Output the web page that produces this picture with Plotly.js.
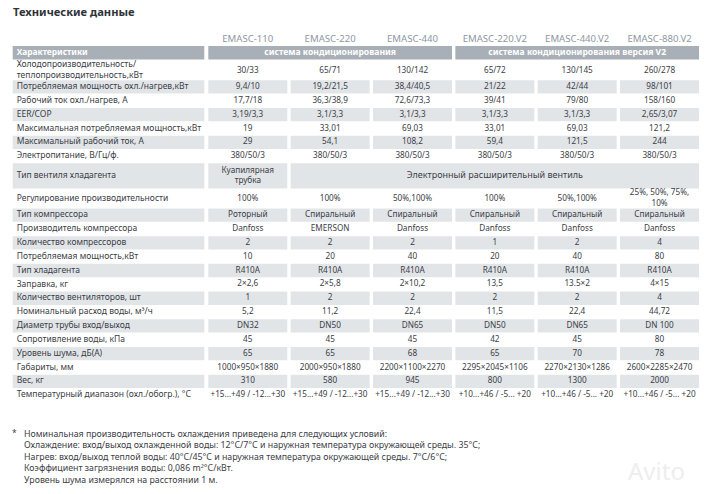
<!DOCTYPE html>
<html><head><meta charset="utf-8">
<script src="https://cdn.plot.ly/plotly-3.0.1.min.js"></script>
<style>html,body{margin:0;padding:0;background:#fff;}#chart{width:720px;height:494px;}</style>
</head><body><div id="chart"></div>
<script>
// ---------- DATA ----------
const chartTitle = "Технические данные";
const models = ["EMASC-110","EMASC-220","EMASC-440","EMASC-220.V2","EMASC-440.V2","EMASC-880.V2"];
const headerLabel = "Характеристики";
const groups = ["система кондиционирования","система кондиционирования версия V2"];
const groupFirstCol = [0, 3];
const groupLastCol = [2, 5];
const rowLabels = [
  "Холодопроизводительность/<br>теплопроизводительность,кВт",
  "Потребляемая мощность охл./нагрев,кВт",
  "Рабочий ток охл./нагрев, А",
  "EER/COP",
  "Максимальная потребляемая мощность,кВт",
  "Максимальный рабочий ток, А",
  "Электропитание, В/Гц/ф.",
  "Тип вентиля хладагента",
  "Регулирование производительности",
  "Тип компрессора",
  "Производитель компрессора",
  "Количество компрессоров",
  "Потребляемая мощность,кВт",
  "Тип хладагента",
  "Заправка, кг",
  "Количество вентиляторов, шт",
  "Номинальный расход воды, м³/ч",
  "Диаметр трубы вход/выход",
  "Сопротивление воды, кПа",
  "Уровень шума, дБ(А)",
  "Габариты, мм",
  "Вес, кг",
  "Температурный диапазон (охл./обогр.), °С"
];
const emasc110 = ["30/33","9,4/10","17,7/18","3,19/3,3","19","29","380/50/3","Куапилярная<br>трубка","100%","Роторный","Danfoss","2","10","R410A","2×2,6","1","5,2","DN32","45","65","1000×950×1880","310","+15...+49 / -12...+30"];
const emasc220 = ["65/71","19,2/21,5","36,3/38,9","3,1/3,3","33,01","54,1","380/50/3",null,"100%","Спиральный","EMERSON","2","20","R410A","2×5,8","2","11,2","DN50","45","65","2000×950×1880","580","+15...+49 / -12...+30"];
const emasc440 = ["130/142","38,4/40,5","72,6/73,3","3,1/3,3","69,03","108,2","380/50/3",null,"50%,100%","Спиральный","Danfoss","2","40","R410A","2×10,2","2","22,4","DN65","45","68","2200×1100×2270","945","+15...+49 / -12...+30"];
const emasc220v2 = ["65/72","21/22","39/41","3,1/3,3","33,01","59,4","380/50/3",null,"100%","Спиральный","Danfoss","1","20","R410A","13,5","2","11,5","DN50","42","65","2295×2045×1106","800","+10...+46 / -5... +20"];
const emasc440v2 = ["130/145","42/44","79/80","3,1/3,3","69,03","121,5","380/50/3",null,"50%,100%","Спиральный","Danfoss","2","40","R410A","13.5×2","2","22,4","DN65","45","70","2270×2130×1286","1300","+10...+46 / -5... +20"];
const emasc880v2 = ["260/278","98/101","158/160","2,65/3,07","121,2","244","380/50/3",null,"25%, 50%, 75%,<br>10%","Спиральный","Danfoss","4","80","R410A","4×15","4","44,72","DN 100","80","78","2600×2285×2470","2000","+10...+46 / -5... +20"];
const mergedText = "Электронный расширительный вентиль";
const mergedRow = 7;
const mergedFirstCol = 1;
const mergedLastCol = 5;
const footnotes = [
  "Номинальная производительность охлаждения приведена для следующих условий:",
  "Охлаждение: вход/выход охлажденной воды: 12°С/7°С и наружная температура окружающей среды. 35°С;",
  "Нагрев: вход/выход теплой воды: 40°С/45°С и наружная температура окружающей среды. 7°С/6°С;",
  "Коэффициент загрязнения воды: 0,086 m²°С/кВт.",
  "Уровень шума измерялся на расстоянии 1 м."
];
const columns = [emasc110, emasc220, emasc440, emasc220v2, emasc440v2, emasc880v2];

// ---------- LAYOUT / STYLE ----------
const W = 720, H = 494;
const FONT = "Noto Sans, Open Sans, sans-serif";
const TEXT = "#3b4046";
const HEAD_FILL = "#a9afb6";
const ROW_FILL = "#e2e5e8";
const labelLeft = 12.7, labelRight = 204.3, labelTextX = 16.7;
const col0Left = 208.3, colPitch = 82.35, cellW = 79;
const headTop = 46, headBottom = 59.5;
const bodyTop = 59.7;
const regH = 13.85;
const rowHeights = rowLabels.map((_, i) => i === 0 ? 20.3 : i === 7 ? 25.7 : i === 8 ? 19.4 : regH);
const rowTops = [];
rowHeights.reduce((acc, h) => { rowTops.push(acc); return acc + h; }, bodyTop);
const rowMid = rowTops.map((t, i) => t + rowHeights[i] / 2 + (i === 0 ? 0.7 : 0));
const colLeft = i => col0Left + i * colPitch;
const colCenter = i => colLeft(i) + cellW / 2;

const shapes = [];
function rect(x0, x1, y0, y1, c) {
  shapes.push({type: "rect", xref: "x", yref: "y", x0, x1, y0, y1, fillcolor: c, line: {width: 0}, layer: "below"});
}
rect(labelLeft, labelRight, headTop, headBottom, HEAD_FILL);
groups.forEach((g, k) => rect(colLeft(groupFirstCol[k]), colLeft(groupLastCol[k]) + cellW, headTop, headBottom, HEAD_FILL));
rowLabels.forEach((_, r) => {
  if (r % 2 === 1) {
    const y0 = rowTops[r] + 0.25, y1 = rowTops[r] + rowHeights[r] - 0.25;
    rect(labelLeft, labelRight, y0, y1, ROW_FILL);
    columns.forEach((col, c) => {
      if (r === mergedRow && c >= mergedFirstCol && c <= mergedLastCol) return;
      rect(colLeft(c), colLeft(c) + cellW, y0, y1, ROW_FILL);
    });
    if (r === mergedRow) rect(colLeft(mergedFirstCol), colLeft(mergedLastCol) + cellW, y0, y1, ROW_FILL);
  }
});

const traces = [];
const baseText = {type: "scatter", mode: "text", hoverinfo: "skip", showlegend: false, cliponaxis: false};
traces.push(Object.assign({}, baseText, {
  x: models.map((_, i) => colCenter(i)), y: models.map(() => 39.3), text: models,
  textposition: "middle center", textfont: {family: FONT, size: 9.6, color: "#8d97a2"}
}));
traces.push(Object.assign({}, baseText, {
  x: [labelTextX], y: [(headTop + headBottom) / 2], text: [headerLabel],
  textposition: "middle right", textfont: {family: FONT, size: 8.4, color: "#ffffff", weight: "bold"}
}));
traces.push(Object.assign({}, baseText, {
  x: groups.map((_, k) => (colLeft(groupFirstCol[k]) + colLeft(groupLastCol[k]) + cellW) / 2),
  y: groups.map(() => (headTop + headBottom) / 2), text: groups,
  textposition: "middle center", textfont: {family: FONT, size: 8.6, color: "#ffffff", weight: "bold"}
}));
traces.push(Object.assign({}, baseText, {
  x: rowLabels.map(() => labelTextX), y: rowMid, text: rowLabels,
  textposition: "middle right", textfont: {family: FONT, size: 8.5, color: TEXT}
}));
columns.forEach((col, c) => {
  traces.push(Object.assign({}, baseText, {
    x: col.map(() => colCenter(c)), y: rowMid, text: col.map(v => v === null ? "" : v),
    textposition: "middle center", textfont: {family: FONT, size: 8.2, color: TEXT}
  }));
});
traces.push(Object.assign({}, baseText, {
  x: [(colLeft(mergedFirstCol) + colLeft(mergedLastCol) + cellW) / 2], y: [rowMid[mergedRow]], text: [mergedText],
  textposition: "middle center", textfont: {family: FONT, size: 9, color: TEXT}
}));

const annotations = [{
  xref: "x", yref: "y", x: 22.7, y: 456.8, text: footnotes.join("<br>"), showarrow: false, borderpad: 0,
  align: "left", xanchor: "left", yanchor: "middle", font: {family: FONT, size: 8.8, color: TEXT}
}];
annotations.push({xref: "x", yref: "y", x: 14.7, y: 432.5, text: "*", showarrow: false, borderpad: 0, xanchor: "center", yanchor: "middle", font: {family: FONT, size: 8.5, color: TEXT}});
annotations.push({xref: "x", yref: "y", x: 656, y: 470, text: "Avito", showarrow: false, xanchor: "center", yanchor: "middle", font: {family: FONT, size: 24, color: "#eeeeee"}});

const layout = {
  width: W, height: H, margin: {l: 0, r: 0, t: 0, b: 0},
  paper_bgcolor: "#ffffff", plot_bgcolor: "#ffffff",
  title: {text: chartTitle, x: 13 / W, xanchor: "left", xref: "paper", y: 1 - 12.5 / H, yref: "container", yanchor: "middle",
    font: {family: FONT, size: 11.2, color: "#2e3338", weight: "bold"}},
  xaxis: {range: [0, W], visible: false, fixedrange: true},
  yaxis: {range: [H, 0], visible: false, fixedrange: true},
  shapes, annotations
};
Plotly.newPlot("chart", traces, layout, {staticPlot: true, displayModeBar: false});
</script>
</body></html>
